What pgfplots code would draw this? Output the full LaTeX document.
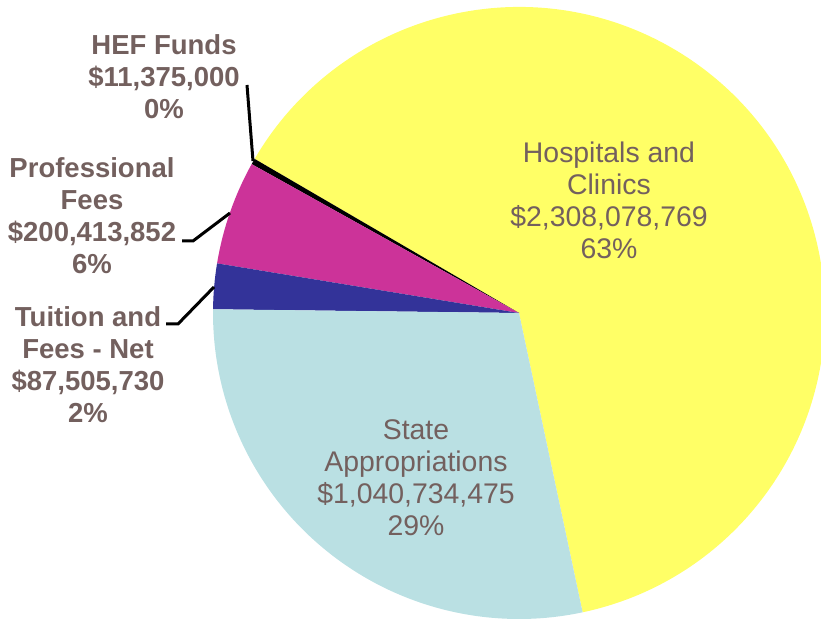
\documentclass[border=0pt]{standalone}
\usepackage{pgfplots}
\pgfplotsset{compat=1.18}
\usepackage{fontspec}
\setmainfont{Liberation Sans}

\definecolor{cHosp}{HTML}{FFFF66}
\definecolor{cState}{HTML}{BAE0E3}
\definecolor{cTuit}{HTML}{333399}
\definecolor{cProf}{HTML}{CC3399}
\definecolor{cHEF}{HTML}{000000}
\definecolor{lbl}{RGB}{115,96,94}

% revenue in millions of dollars
\def\vHosp{2308.078769}
\def\vHEF{11.375}
\def\vProf{200.413852}
\def\vTuit{87.505730}
\def\vState{1040.734475}

\newcommand\pieslice[3]{\fill[#1] (axis cs:519,308) -- ++(#2:153pt) arc[start angle=#2, end angle=#3, radius=153pt] -- cycle;}

\begin{document}
\begin{tikzpicture}
\pgfmathsetmacro\total{\vHosp+\vHEF+\vProf+\vTuit+\vState}
\pgfmathsetmacro\aA{-78}
\pgfmathsetmacro\aB{\aA+\vHosp/\total*360}
\pgfmathsetmacro\aC{\aB+\vHEF/\total*360}
\pgfmathsetmacro\aD{\aC+\vProf/\total*360}
\pgfmathsetmacro\aE{\aD+\vTuit/\total*360}
\pgfmathsetmacro\aF{\aE+\vState/\total*360}
\useasboundingbox (0,0) rectangle (410.5pt,310.5pt);
\begin{axis}[
  at={(0,0)}, anchor=origin,
  x=0.5pt, y=0.5pt,
  xmin=0, xmax=821, ymin=0, ymax=621,
  hide axis,
  clip=true,
]
\pieslice{cHosp}{\aA}{\aB}
\pieslice{cHEF}{\aB}{\aC}
\pieslice{cProf}{\aC}{\aD}
\pieslice{cTuit}{\aD}{\aE}
\pieslice{cState}{\aE}{\aF}
% leader lines
\draw[line width=1.5pt] (axis cs:253,460) -- (axis cs:247,536);
\draw[line width=1.5pt] (axis cs:230,408) -- (axis cs:193,380) -- (axis cs:182,380);
\draw[line width=1.5pt] (axis cs:214,334) -- (axis cs:178,297) -- (axis cs:166,297);
% labels
\tikzset{lab/.style={align=center, inner sep=0pt, text=lbl, font=\fontsize{14.2}{16}\selectfont}}
\node[lab] at (axis cs:609,421) {Hospitals and\\Clinics\\\$2,308,078,769\\63\%};
\node[lab] at (axis cs:416,143) {State\\Appropriations\\\$1,040,734,475\\29\%};
\node[lab, font=\fontsize{13.75}{16}\selectfont\bfseries] at (axis cs:164,544) {HEF Funds\\\$11,375,000\\0\%};
\node[lab, font=\fontsize{13.75}{16}\selectfont\bfseries] at (axis cs:92,405) {Professional\\Fees\\\$200,413,852\\6\%};
\node[lab, font=\fontsize{13.75}{16}\selectfont\bfseries] at (axis cs:88,256) {Tuition and\\Fees - Net\\\$87,505,730\\2\%};
\end{axis}
\end{tikzpicture}
\end{document}
